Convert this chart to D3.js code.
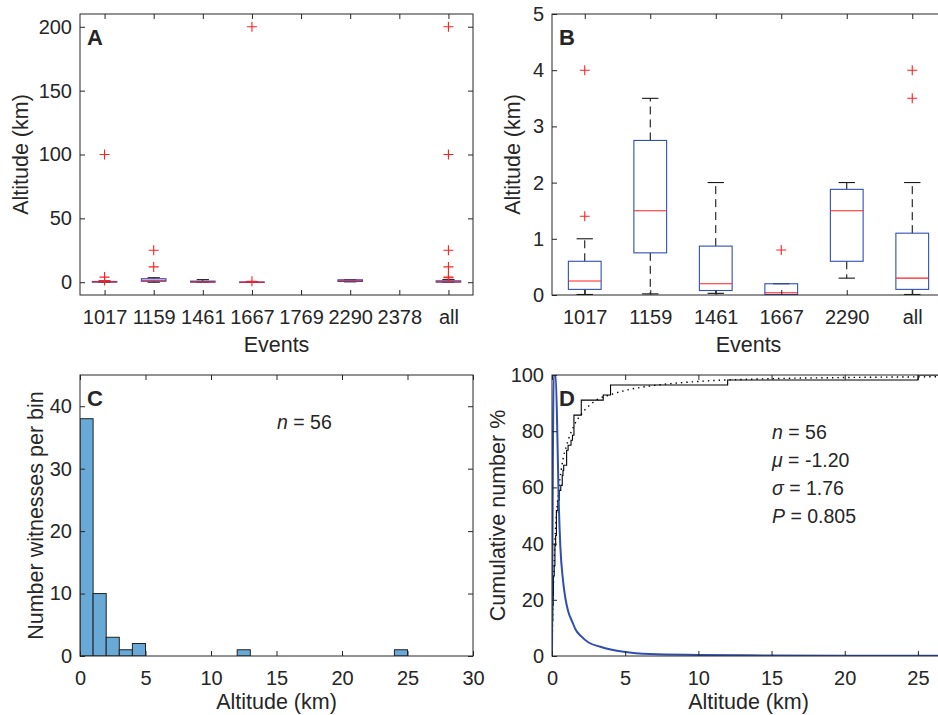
<!DOCTYPE html>
<html>
<head>
<meta charset="utf-8">
<script src="https://cdn.jsdelivr.net/npm/d3@7"></script>
<style>
  body { margin: 0; background: #fff; }
  text { font-family: "Liberation Sans", Arial, sans-serif; fill: #262626; }
</style>
</head>
<body>
<div id="fig"></div>
<script>

// ---- data ----
var eventsA = ['1017', '1159', '1461', '1667', '1769', '2290', '2378', 'all'];
var eventsB = ['1017', '1159', '1461', '1667', '2290', 'all'];

// box stats per event (km), same order as eventsB
var boxQ1 = [0.1, 0.75, 0.08, 0.01, 0.6, 0.1];
var boxMed = [0.25, 1.5, 0.2, 0.04, 1.5, 0.3];
var boxQ3 = [0.6, 2.75, 0.87, 0.2, 1.88, 1.1];
var whiskLo = [0.01, 0.02, 0.03, 0.0, 0.3, 0.01];
var whiskHi = [1.0, 3.5, 2.0, 0.2, 2.0, 2.0];
var outliers = [[100, 4, 1.4], [25, 12], [], [200, 0.8], [], [200, 100, 25, 12, 4, 3.5]];

// histogram (1 km bins)
var binStarts = [0, 1, 2, 3, 4, 12, 24];
var binCounts = [38, 10, 3, 1, 2, 1, 1];

// individual altitudes for the empirical cdf (n = 56)
var altitudes = [0.01, 0.01, 0.01, 0.02, 0.02, 0.03, 0.03, 0.05, 0.05, 0.05, 0.08, 0.08,
  0.1, 0.1, 0.1, 0.1, 0.15, 0.15, 0.2, 0.2, 0.2, 0.2, 0.25, 0.25, 0.3, 0.3, 0.3, 0.3, 0.3,
  0.4, 0.4, 0.5, 0.5, 0.6, 0.7, 0.7, 0.75, 0.8, 1, 1, 1, 1.1, 1.3, 1.4, 1.5, 1.5, 1.5, 1.5,
  2, 2, 2, 3.5, 4, 4, 12, 25];

// fitted lognormal cdf (dotted) and density curve (blue)
var fitX = [0.005, 0.02, 0.05, 0.1, 0.2, 0.3, 0.5, 0.75, 1, 1.5, 2, 3, 4, 5, 7, 10, 15, 20, 27];
var fitCdf = [1, 6, 15, 26, 41, 50, 61, 70, 75, 82, 86, 91, 93, 94.5, 96.3, 97.7, 98.7, 99.1, 99.4];
var pdfX = [0, 0.12, 0.25, 0.38, 0.45, 0.57, 0.75, 0.9, 1.1, 1.4, 1.6, 2.0, 2.5, 3.3, 4.9, 6.7, 10, 15, 20, 27];
var pdfY = [0, 100, 100, 75, 57, 39, 27, 21, 16, 12, 9.5, 7, 4.8, 3.3, 1.5, 0.7, 0.4, 0.2, 0.1, 0.05];

// ---- figure ----
var W = 938, H = 715;
var axisColor = '#262626';
var boxColor = '#2f4fb5';
var red = '#ff2020';
var tickFont = '20px', labelFont = '21.5px', noteFont = '19.5px';

var svg = d3.select('#fig').append('svg')
    .attr('width', W)
    .attr('height', H);

var defs = svg.append('defs');

function panel(id, x0, x1, y0, y1) {
  defs.append('clipPath').attr('id', 'clip-' + id)
    .append('rect').attr('x', x0).attr('y', y0).attr('width', x1 - x0).attr('height', y1 - y0);
  var g = svg.append('g').attr('class', 'panel-' + id);
  var plot = g.append('g').attr('clip-path', 'url(#clip-' + id + ')');
  return { g: g, plot: plot, x0: x0, x1: x1, y0: y0, y1: y1 };
}

function frame(p, x, y, xt, xf, yt, ylabel, xlabel, xlabelDy, letter) {
  var g = p.g;
  g.append('g')
    .attr('transform', 'translate(0,' + p.y1 + ')')
    .call(d3.axisBottom(x).tickValues(xt).tickFormat(xf).tickSize(-5).tickPadding(15));
  g.append('g')
    .attr('transform', 'translate(0,' + p.y0 + ')')
    .call(d3.axisTop(x).tickValues(xt).tickFormat('').tickSize(-5));
  g.append('g')
    .attr('transform', 'translate(' + p.x0 + ',0)')
    .call(d3.axisLeft(y).tickValues(yt).tickFormat(d3.format('d')).tickSize(-5).tickPadding(8));
  g.append('g')
    .attr('transform', 'translate(' + p.x1 + ',0)')
    .call(d3.axisRight(y).tickValues(yt).tickFormat('').tickSize(-5));

  g.selectAll('.domain').remove();
  g.selectAll('.tick line').attr('stroke', axisColor);
  g.selectAll('.tick text')
    .style('font-size', tickFont)
    .attr('fill', axisColor)
    .style('font-family', '"Liberation Sans", Arial, sans-serif');

  g.append('rect')
    .attr('x', p.x0).attr('y', p.y0)
    .attr('width', p.x1 - p.x0).attr('height', p.y1 - p.y0)
    .attr('fill', 'none')
    .attr('stroke', axisColor)
    .attr('stroke-width', 1);

  var cy = (p.y0 + p.y1) / 2;
  g.append('text')
    .attr('transform', 'translate(' + ylabel.x + ',' + cy + ') rotate(-90)')
    .attr('text-anchor', 'middle')
    .attr('dy', '0.35em')
    .style('font-size', labelFont)
    .text(ylabel.text);

  g.append('text')
    .attr('x', (p.x0 + p.x1) / 2)
    .attr('y', p.y1 + xlabelDy)
    .attr('text-anchor', 'middle')
    .style('font-size', labelFont)
    .text(xlabel);

  g.append('text')
    .attr('x', p.x0 + 7)
    .attr('y', p.y0 + 31)
    .style('font-size', '22px')
    .style('font-weight', 'bold')
    .attr('fill', '#000')
    .text(letter);
}

function boxes(p, x, y, positions, scaleW) {
  var bw = scaleW * 0.5, cw = scaleW * 0.25;
  positions.forEach(function(pos, i) {
    var cx = x(pos);
    var g = p.plot.append('g');
    // whiskers
    g.append('line')
      .attr('x1', cx).attr('x2', cx)
      .attr('y1', y(boxQ3[i])).attr('y2', y(whiskHi[i]))
      .attr('stroke', '#000').attr('stroke-dasharray', '8,5');
    g.append('line')
      .attr('x1', cx).attr('x2', cx)
      .attr('y1', y(boxQ1[i])).attr('y2', y(whiskLo[i]))
      .attr('stroke', '#000').attr('stroke-dasharray', '8,5');
    [whiskHi[i], whiskLo[i]].forEach(function(v) {
      g.append('line')
        .attr('x1', cx - cw / 2).attr('x2', cx + cw / 2)
        .attr('y1', y(v)).attr('y2', y(v))
        .attr('stroke', '#000');
    });
    g.append('rect')
      .attr('x', cx - bw / 2)
      .attr('y', y(boxQ3[i]))
      .attr('width', bw)
      .attr('height', Math.max(0.5, y(boxQ1[i]) - y(boxQ3[i])))
      .attr('fill', 'none')
      .attr('stroke', boxColor)
      .attr('stroke-width', 1.1);
    g.append('line')
      .attr('x1', cx - bw / 2).attr('x2', cx + bw / 2)
      .attr('y1', y(boxMed[i])).attr('y2', y(boxMed[i]))
      .attr('stroke', red).attr('stroke-width', 1.1);
    g.selectAll('path.out')
      .data(outliers[i])
      .enter().append('path')
      .attr('class', 'out')
      .attr('transform', function(d) { return 'translate(' + cx + ',' + y(d) + ')'; })
      .attr('d', 'M-5,0H5M0,-5V5')
      .attr('stroke', red)
      .attr('stroke-width', 1.1);
  });
}

// ---- A ----
var pA = panel('A', 80, 473, 14, 295);
var xA = d3.scaleLinear().domain([0.5, eventsA.length + 0.5]).range([pA.x0, pA.x1]);
var yA = d3.scaleLinear().domain([-10, 210]).range([pA.y1, pA.y0]);
var posA = eventsB.map(function(e) { return eventsA.indexOf(e) + 1; });
boxes(pA, xA, yA, posA, xA(2) - xA(1));
frame(pA, xA, yA, d3.range(1, eventsA.length + 1), function(i) { return eventsA[i - 1]; },
  [0, 50, 100, 150, 200], { x: 20, text: 'Altitude (km)' }, 'Events', 57, 'A');

// ---- B ----
var pB = panel('B', 552, 945, 14, 295);
var xB = d3.scaleLinear().domain([0.5, eventsB.length + 0.5]).range([pB.x0, pB.x1]);
var yB = d3.scaleLinear().domain([0, 5]).range([pB.y1, pB.y0]);
boxes(pB, xB, yB, d3.range(1, eventsB.length + 1), xB(2) - xB(1));
frame(pB, xB, yB, d3.range(1, eventsB.length + 1), function(i) { return eventsB[i - 1]; },
  [0, 1, 2, 3, 4, 5], { x: 512, text: 'Altitude (km)' }, 'Events', 57, 'B');

// ---- C ----
var pC = panel('C', 80, 473, 375, 656);
var xC = d3.scaleLinear().domain([0, 30]).range([pC.x0, pC.x1]);
var yC = d3.scaleLinear().domain([0, 45]).range([pC.y1, pC.y0]);
pC.plot.selectAll('rect.bar')
  .data(binStarts)
  .enter().append('rect')
  .attr('class', 'bar')
  .attr('x', function(d) { return xC(d); })
  .attr('width', function(d) { return xC(d + 1) - xC(d); })
  .attr('y', function(d, i) { return yC(binCounts[i]); })
  .attr('height', function(d, i) { return yC(0) - yC(binCounts[i]); })
  .attr('fill', '#68a9d8')
  .attr('stroke', '#222')
  .attr('stroke-width', 1);
frame(pC, xC, yC, [0, 5, 10, 15, 20, 25, 30], d3.format('d'),
  [0, 10, 20, 30, 40], { x: 35, text: 'Number witnesses per bin' }, 'Altitude (km)', 53, 'C');
var nC = pC.g.append('text')
  .attr('x', 277).attr('y', 429)
  .style('font-size', noteFont);
nC.append('tspan').style('font-style', 'italic').text('n');
nC.append('tspan').text(' = 56');

// ---- D ----
var pD = panel('D', 552, 945, 375, 656);
var xD = d3.scaleLinear().domain([0, 26.85]).range([pD.x0, pD.x1]);
var yD = d3.scaleLinear().domain([0, 100]).range([pD.y1, pD.y0]);

var n = altitudes.length;
var ecdf = [[altitudes[0], 0]].concat(altitudes.map(function(v, i) { return [v, (i + 1) / n * 100]; }));
ecdf.push([30, 100]);
pD.plot.append('path')
  .datum(ecdf)
  .attr('fill', 'none')
  .attr('stroke', '#000')
  .attr('stroke-width', 1.1)
  .attr('d', d3.line()
    .x(function(d) { return xD(d[0]); })
    .y(function(d) { return yD(d[1]); })
    .curve(d3.curveStepAfter));

pD.plot.append('path')
  .datum(fitX.map(function(v, i) { return [v, fitCdf[i]]; }))
  .attr('fill', 'none')
  .attr('stroke', '#000')
  .attr('stroke-width', 1.4)
  .attr('stroke-dasharray', '1.4,4')
  .attr('d', d3.line()
    .x(function(d) { return xD(d[0]); })
    .y(function(d) { return yD(d[1]); })
    .curve(d3.curveMonotoneX));

pD.plot.append('path')
  .datum(pdfX.map(function(v, i) { return [v, pdfY[i]]; }))
  .attr('fill', 'none')
  .attr('stroke', '#2f4fb0')
  .attr('stroke-width', 2)
  .attr('d', d3.line()
    .x(function(d) { return xD(d[0]); })
    .y(function(d) { return yD(d[1]); })
    .curve(d3.curveMonotoneX));

frame(pD, xD, yD, [0, 5, 10, 15, 20, 25], d3.format('d'),
  [0, 20, 40, 60, 80, 100], { x: 497, text: 'Cumulative number %' }, 'Altitude (km)', 53, 'D');

var stats = [['n', ' = 56'], ['\u03bc', ' = -1.20'], ['\u03c3', ' = 1.76'], ['P', ' = 0.805']];
stats.forEach(function(s, i) {
  var t = pD.g.append('text')
    .attr('x', 772)
    .attr('y', 439 + i * 28)
    .style('font-size', noteFont);
  t.append('tspan').style('font-style', 'italic').text(s[0]);
  t.append('tspan').text(s[1]);
});

</script>
</body>
</html>
